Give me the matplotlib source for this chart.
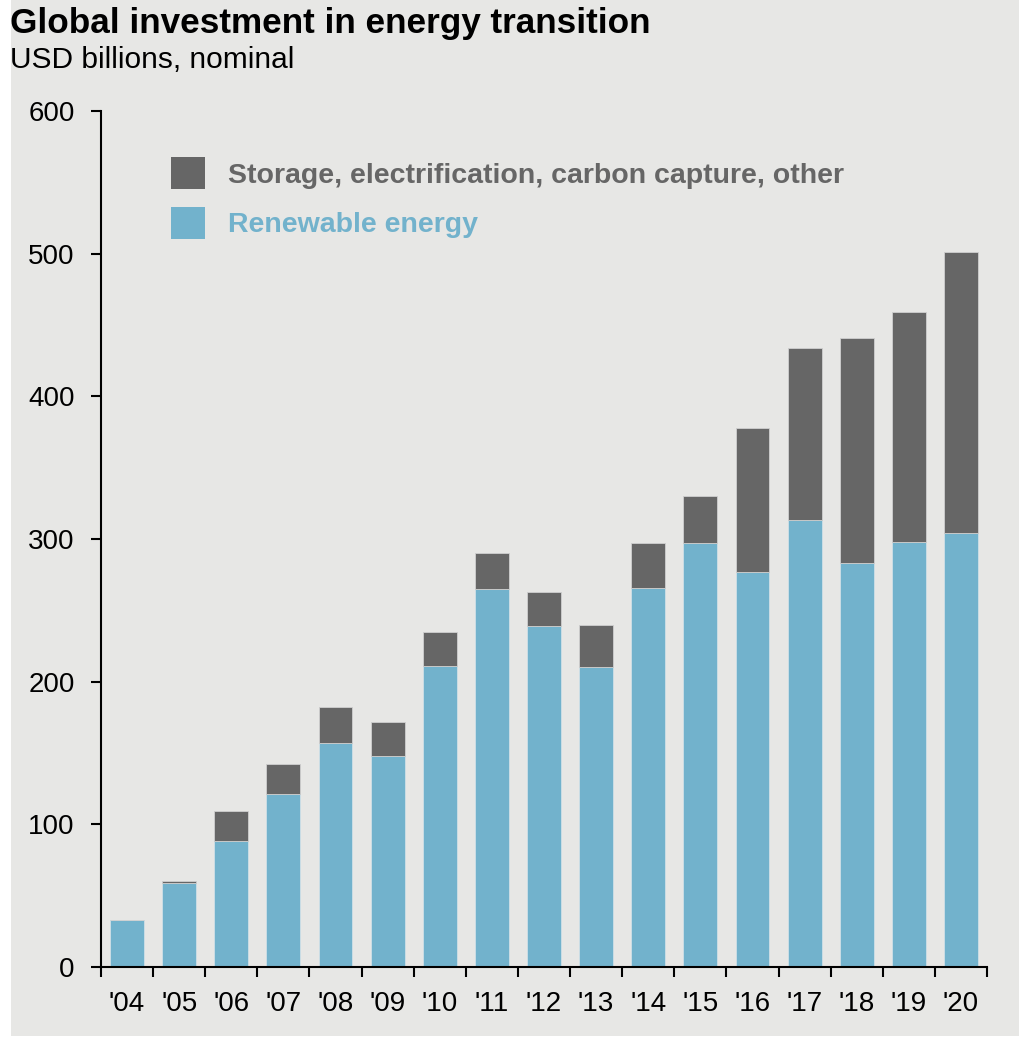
import matplotlib
matplotlib.use("Agg")
import matplotlib.pyplot as plt
from matplotlib.patches import Rectangle

years = ["'04", "'05", "'06", "'07", "'08", "'09", "'10", "'11", "'12", "'13",
         "'14", "'15", "'16", "'17", "'18", "'19", "'20"]
renewable = [33, 59, 88, 121, 157, 148, 211, 265, 239, 210, 266, 297, 277, 313, 283, 298, 304]
other = [0, 1, 21, 21, 25, 24, 24, 25, 24, 30, 31, 33, 101, 121, 158, 161, 197]

BLUE = "#72b2cc"
DARK = "#666666"
BG = "#e7e7e5"

plt.rcParams['font.family'] = ['Liberation Sans', 'DejaVu Sans']

fig = plt.figure(figsize=(10.2, 10.37), dpi=100)
fig.patch.set_facecolor("white")
fig.patches.append(Rectangle((11/1020, 1/1037), 1 - 11/1020, 1 - 1/1037,
                             transform=fig.transFigure, facecolor=BG,
                             edgecolor="none", zorder=-10))

ax = fig.add_axes([101/1020, 1 - 967/1037, (987 - 101)/1020, (967 - 111)/1037])
ax.set_facecolor("none")

x = list(range(len(years)))
b1 = ax.bar(x, renewable, width=0.65, color=BLUE, edgecolor="#cfe0e7", linewidth=0.6,
            label="Renewable energy", zorder=2)
b2 = ax.bar(x, other, width=0.65, bottom=renewable, color=DARK, edgecolor="#cfcfcf",
            linewidth=0.6, label="Storage, electrification, carbon capture, other", zorder=2)

ax.set_xlim(-0.5, len(years) - 0.5)
ax.set_ylim(0, 600)
ax.set_yticks([0, 100, 200, 300, 400, 500, 600])
ax.set_xticks(x)
ax.set_xticklabels(years)
ax.set_xticks([i - 0.5 for i in range(len(years) + 1)], minor=True)
ax.tick_params(axis="x", which="major", length=0, pad=17, labelsize=20)
ax.tick_params(axis="x", which="minor", length=7, width=1.5, direction="out")
ax.tick_params(axis="y", length=7, width=1.5, direction="out", pad=12, labelsize=20)

for s in ["top", "right"]:
    ax.spines[s].set_visible(False)
for s in ["left", "bottom"]:
    ax.spines[s].set_linewidth(1.5)

leg = ax.legend(handles=[b2, b1], loc="upper left", bbox_to_anchor=(0.050, 0.976),
                frameon=False, handlelength=1.2, handleheight=1.35, handletextpad=0.8,
                labelspacing=0.62, prop={"weight": "bold", "size": 20.5})
leg.get_texts()[0].set_color(DARK)
leg.get_texts()[1].set_color(BLUE)
for h in leg.legend_handles:
    h.set_edgecolor("none")

fig.text(10/1020, 1 - 7/1037, "Global investment in energy transition", fontsize=25.3,
         fontweight="bold", va="top", ha="left")
fig.text(10/1020, 1 - 46/1037, "USD billions, nominal", fontsize=21.5, va="top", ha="left")

fig.savefig("out.png", dpi=100, facecolor=fig.get_facecolor())
